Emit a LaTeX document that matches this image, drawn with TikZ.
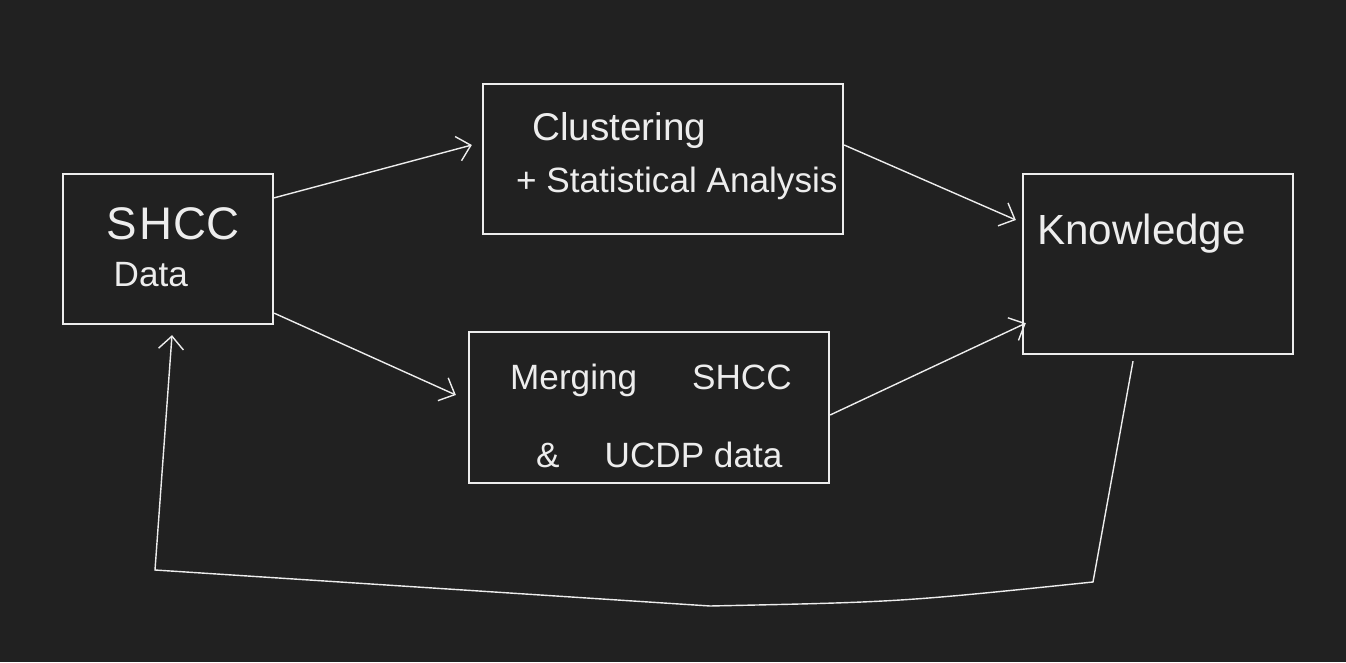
\documentclass[tikz,border=0pt]{standalone}
\usepackage{fontspec}
\setmainfont{Liberation Sans}
\usepackage{tikz}
\usetikzlibrary{positioning, arrows.meta}
\definecolor{board}{HTML}{212121}
\definecolor{chalk}{HTML}{EDEDED}

\tikzset{
  stage/.style={rectangle, draw=chalk, line width=1.3pt, inner sep=0pt},
  scribble/.style={text=chalk, inner sep=0pt, align=left, font=\fontsize{20}{30}\selectfont},
  flow/.style={draw=chalk, line width=0.8pt, ->, >={Straight Barb[length=2.6mm,width=5mm]}}
}

\begin{document}
\begin{tikzpicture}
    % board
    \fill[board] (0,0) rectangle (26.92,13.24);
    \useasboundingbox (0,0) rectangle (26.92,13.24);

    \node (shcc)  at (3.36,8.26)  [stage, minimum width=4.2cm, minimum height=3cm] {};
    \node (clust) at (13.26,10.06) [stage, minimum width=7.2cm, minimum height=3cm] {};
    \node (merge) at (12.98,5.09) [stage, minimum width=7.2cm, minimum height=3.02cm] {};
    \node (know)  at (23.16,7.96) [stage, minimum width=5.4cm, minimum height=3.6cm] {};

    \node (shcctext)  [scribble, anchor=north west] at ([xshift=0.88cm,yshift=-0.68cm]shcc.north west)
        {{\fontsize{26}{30}\selectfont S\kern0.06cm H\kern0.02cm CC}\\[-0.1cm]\hspace{0.15cm}Data};
    \node (clusttext) [scribble, anchor=north west] at ([xshift=0.68cm,yshift=-0.58cm]clust.north west)
        {\hspace{0.32cm}{\fontsize{22}{30}\selectfont Clustering}\\+ Statistical Analysis};
    \node (mergetext) [scribble, anchor=north west] at ([xshift=0.84cm,yshift=-0.66cm]merge.north west)
        {Merging\hspace{1.1cm}SHCC\\[0.5cm]\hspace{0.52cm}\&\hspace{0.9cm}UCDP data};
    \node (knowtext)  [scribble, anchor=north west, font=\fontsize{24}{28}\selectfont] at ([xshift=0.3cm,yshift=-0.82cm]know.north west)
        {Knowledge};

    \coordinate (fbright) at (21.86,1.60);
    \coordinate (fbmid)   at (14.2,1.12);
    \coordinate (fbleft)  at (3.1,1.84);

    \draw[flow] ([yshift=-0.5cm]shcc.north east) -- ([xshift=-0.2cm,yshift=0.28cm]clust.west);
    \draw[flow] ([yshift=0.24cm]shcc.south east) -- ([xshift=-0.24cm,yshift=0.25cm]merge.west);
    \draw[flow] ([yshift=0.28cm]clust.east) -- ([xshift=-0.12cm,yshift=0.88cm]know.west);
    \draw[flow] ([yshift=-0.15cm]merge.east) -- ([xshift=0.08cm,yshift=0.64cm]know.south west);
    \draw[flow] ([xshift=-0.5cm,yshift=-0.12cm]know.south) -- (fbright)
        .. controls (18,1.2) .. (fbmid) -- (fbleft) -- ([xshift=0.08cm,yshift=-0.2cm]shcc.south);
\end{tikzpicture}
\end{document}
